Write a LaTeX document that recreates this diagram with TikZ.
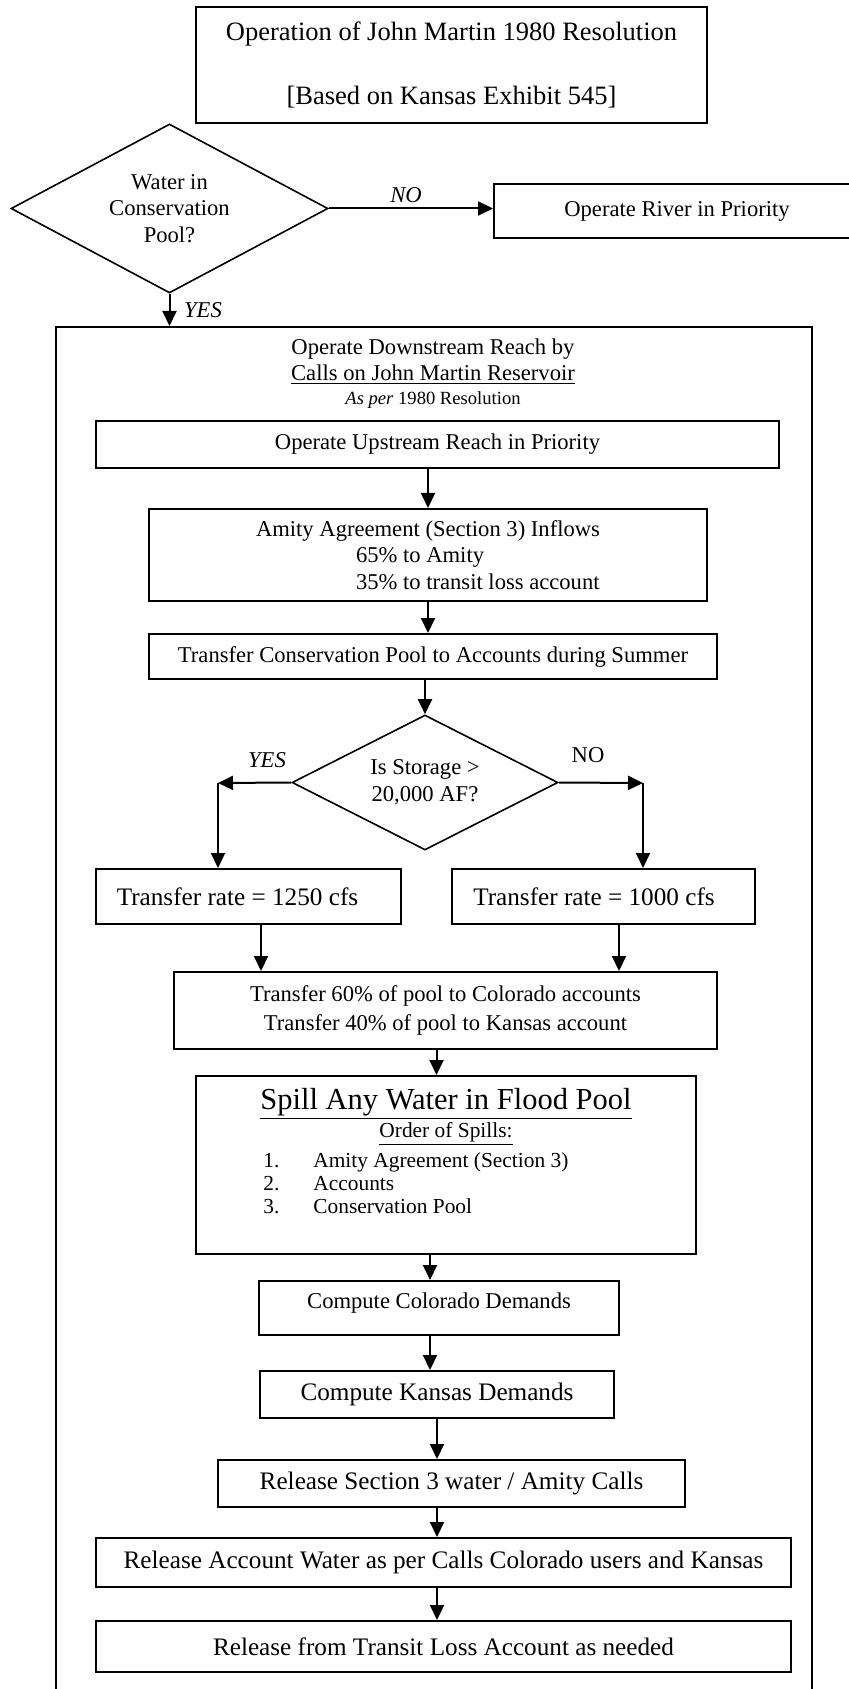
\documentclass[tikz,border=0pt]{standalone}
\usepackage{fontspec}
\setmainfont{Liberation Serif}
\usetikzlibrary{arrows.meta,shapes.geometric}
\newcommand\fsS{\fontsize{9.3}{11}\selectfont}
\newcommand\fsL{\fontsize{10.7}{11.3}\selectfont}
\newcommand\fsM{\fontsize{11.3}{13.25}\selectfont}
\newcommand\fsB{\fontsize{12.6}{14}\selectfont}
\newcommand\fsT{\fontsize{13.25}{16}\selectfont}
\newcommand\fsH{\fontsize{15.25}{18}\selectfont}
\tikzset{
  box/.style={draw, line width=1pt, inner sep=0pt, align=center},
  dia/.style={draw, diamond, line width=0.8pt, inner sep=0pt, align=center, font=\fsM},
  arr/.style={-{Triangle[length=7.5pt,width=7pt]}, line width=1pt},
  lbl/.style={inner sep=0pt, font=\fsM},
  txt/.style={inner sep=0pt, align=center}
}
\begin{document}
\begin{tikzpicture}[x=0.5pt,y=-0.5pt]
\clip (0,0) rectangle (849,1689);
% title
\node[box, minimum width=255.5pt, minimum height=58pt, font=\fsT] (title) at (451.5,65)
  {Operation of John Martin 1980 Resolution\\[16pt]{[}Based on Kansas Exhibit 545{]}};
% first decision
\node[dia, aspect=1.876, minimum width=158.5pt, minimum height=84.5pt] (d1) at (169.5,208.5)
  {Water in\\Conservation\\Pool?};
\node[box, minimum width=183pt, minimum height=27pt, font=\fsM] (river) at (677,211)
  {Operate River in Priority};
\draw[arr] (d1.east) -- (d1.east -| river.west);
\node[lbl, font=\fsM\itshape] (no1) at (406,195) {NO};
% outer frame
\node[draw, line width=1pt, minimum width=378pt, minimum height=686.5pt, inner sep=0pt] (outer) at (434,1013.5) {};
\draw[arr] (d1.south) -- (d1.south |- outer.north);
\node[lbl, font=\fsM\itshape] (yes1) at (203,310) {YES};
% header
\node[txt, font=\fsM] (hdr1) at (433,349) {Operate Downstream Reach by};
\node[txt, font=\fsM] (hdr2) at (433,375) {\underline{Calls on John Martin Reservoir}};
\node[txt, font=\fsS] (hdr3) at (433,400) {\textit{As per} 1980 Resolution};
% chain
\node[box, minimum width=341.5pt, minimum height=23.5pt, font=\fsM] (up) at (437.5,444.5)
  {Operate Upstream Reach in Priority};
\node[box, minimum width=279pt, minimum height=46pt, font=\fsM, align=left] (amity) at (428,555)
  {Amity Agreement (Section 3) Inflows\\\hspace*{50pt}65\% to Amity\\\hspace*{50pt}35\% to transit loss account};
\node[box, minimum width=284pt, minimum height=22.5pt, font=\fsM] (tcp) at (433,656.5)
  {Transfer Conservation Pool to Accounts during Summer};
\node[dia, aspect=1.97, minimum width=133pt, minimum height=67.5pt] (d2) at (425,782.5)
  {Is Storage >\\20,000 AF?};
\draw[arr] (up.south -| amity.north) -- (amity.north);
\draw[arr] (amity.south) -- (amity.south |- tcp.north);
\draw[arr] (tcp.south -| d2.north) -- (d2.north);
% branches
\node[box, minimum width=152.5pt, minimum height=27.5pt, font=\fsB] (r1250) at (248.5,896.5)
  {Transfer rate = 1250 cfs\hspace*{11pt}};
\node[box, minimum width=151.5pt, minimum height=27.5pt, font=\fsB] (r1000) at (603.5,896.5)
  {Transfer rate = 1000 cfs\hspace*{9.5pt}};
\coordinate (cl) at (218,783);
\coordinate (cr) at (643,783);
\draw[arr] (d2.west) -- (cl);
\draw[arr] (d2.east) -- (cr);
\draw[arr] (cl) -- (cl |- r1250.north);
\draw[arr] (cr) -- (cr |- r1000.north);
\node[lbl, font=\fsM\itshape] (yes2) at (267,760) {YES};
\node[lbl, font=\fsM] (no2) at (588,755) {NO};
\node[box, minimum width=271.5pt, minimum height=38.5pt, font=\fsM, align=center] (t60) at (445.5,1010.5)
  {Transfer 60\% of pool to Colorado accounts\\[1pt]Transfer 40\% of pool to Kansas account};
\draw[arr] ([xshift=6.25pt]r1250.south) -- ([xshift=6.25pt]r1250.south |- t60.north);
\draw[arr] ([xshift=7.75pt]r1000.south) -- ([xshift=7.75pt]r1000.south |- t60.north);
% spill
\node[box, minimum width=250pt, minimum height=89pt] (spill) at (446,1165) {};
\draw[arr] ([xshift=-4.5pt]t60.south) -- ([xshift=-4.5pt]t60.south |- spill.north);
\node[txt, font=\fsH] (sp1) at (446,1104) {\underline{Spill Any Water in Flood Pool}};
\node[txt, font=\fsL] (sp2) at (446,1134) {\underline{Order of Spills:}};
\node[txt, font=\fsL, anchor=west] (sp3) at (263,1186)
  {\begin{tabular}{@{}p{25pt}@{}l@{}}1.&Amity Agreement (Section 3)\\2.&Accounts\\3.&Conservation Pool\end{tabular}};
% demands and releases
\node[box, minimum width=180pt, minimum height=27pt, font=\fsM] (ccd) at (439,1308)
  {Compute Colorado Demands\rule[-7pt]{0pt}{7pt}};
\draw[arr] ([xshift=-4.5pt]ccd.north |- spill.south) -- ([xshift=-4.5pt]ccd.north);
\node[box, minimum width=177pt, minimum height=23.5pt, font=\fsB] (ckd) at (437,1394.5)
  {Compute Kansas Demands};
\draw[arr] ([xshift=-3.5pt]ckd.north |- ccd.south) -- ([xshift=-3.5pt]ckd.north);
\node[box, minimum width=233.5pt, minimum height=23.5pt, font=\fsB] (rs3) at (451.5,1483.5)
  {Release Section 3 water / Amity Calls};
\draw[arr] (ckd.south) -- (ckd.south |- rs3.north);
\node[box, minimum width=347.5pt, minimum height=24.5pt, font=\fsB] (raw) at (443.5,1562.5)
  {Release Account Water as per Calls Colorado users and Kansas};
\draw[arr] (rs3.south -| ckd.south) -- (ckd.south |- raw.north);
\node[box, minimum width=347.5pt, minimum height=25.5pt, font=\fsB] (rtl) at (443.5,1646.5)
  {Release from Transit Loss Account as needed};
\draw[arr] (raw.south -| ckd.south) -- (ckd.south |- rtl.north);
\end{tikzpicture}
\end{document}
